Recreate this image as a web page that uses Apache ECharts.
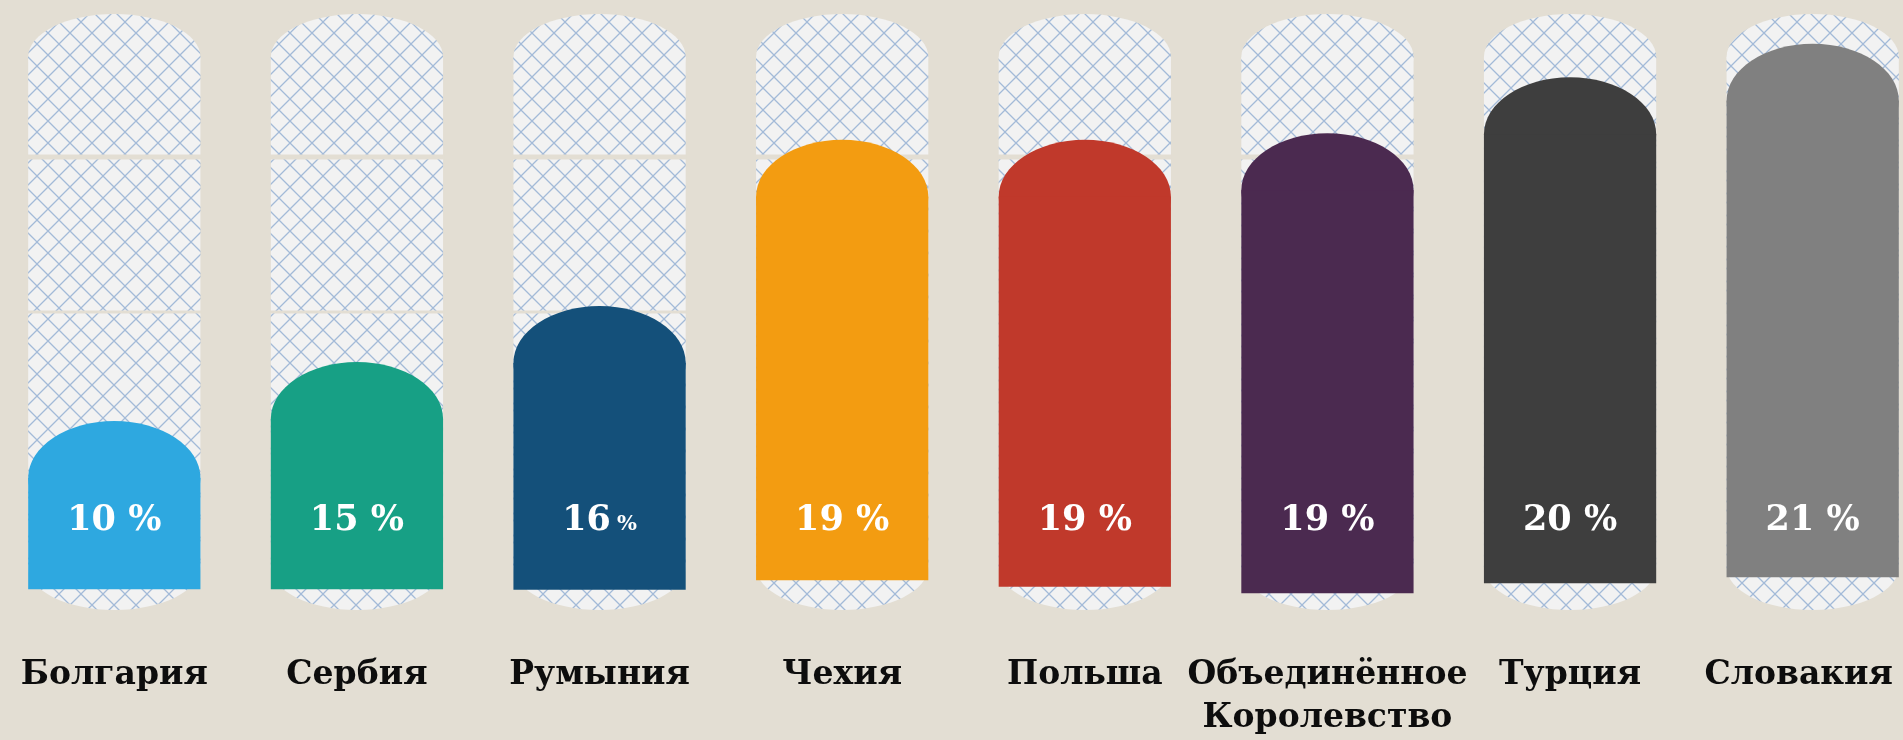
<!DOCTYPE html>
<html>
<head>
<meta charset="utf-8">
<script src="https://cdn.jsdelivr.net/npm/echarts@6/dist/echarts.min.js"></script>
<style>
  html, body { margin: 0; padding: 0; background: #e3ded3; overflow: hidden; }
  /* the pills run slightly past both edges of the window */
  #shareChart { position: absolute; left: -7px; top: 0; width: 1941px; height: 740px; }
</style>
</head>
<body>
<div id="shareChart"></div>
<script>
const countries = ['Болгария', 'Сербия', 'Румыния', 'Чехия', 'Польша', 'Объединённое Королевство', 'Турция', 'Словакия'];
const shares = [10, 15, 16, 19, 19, 19, 20, 21];
// fill level of each pill (0 = bottom of pill, 100 = top)
const fillTop = [31.7, 41.6, 51.0, 78.9, 78.9, 80.0, 89.4, 95.0];
const fillBase = [3.5, 3.5, 3.4, 5.0, 3.9, 2.8, 4.5, 5.5];
const gapLevels = [50, 76];
const barColors = ['#2ea8e0', '#17a085', '#14507a', '#f39c11', '#c0392b', '#4b2a50', '#3e3e3e', '#808080'];

const shareChart = echarts.init(document.getElementById('shareChart'));

// crosshatch pattern for the empty pills
function makeHatch() {
    const s = 22;
    const c = document.createElement('canvas');
    c.width = s;
    c.height = s;
    const ctx = c.getContext('2d');
    ctx.fillStyle = '#f2f2f2';
    ctx.fillRect(0, 0, s, s);
    ctx.strokeStyle = '#a3bad8';
    ctx.lineWidth = 1.3;
    ctx.beginPath();
    ctx.moveTo(-1, -1); ctx.lineTo(s + 1, s + 1);
    ctx.moveTo(s + 1, -1); ctx.lineTo(-1, s + 1);
    ctx.stroke();
    return c;
}
const hatch = { image: makeHatch(), repeat: 'repeat' };
const beige = '#e3ded3';

function renderPill(params, api) {
    const i = api.value(0);
    const top = api.coord([i, api.value(2)]);
    const bot = api.coord([i, api.value(1)]);
    const w = api.size([1, 0])[0] * 0.71;
    const capH = 43;
    const children = [
        { type: 'rect', shape: { x: top[0] - w / 2, y: top[1] + capH, width: w, height: bot[1] - top[1] - 2 * capH }, style: { fill: hatch } },
        { type: 'ellipse', shape: { cx: top[0], cy: top[1] + capH, rx: w / 2, ry: capH }, style: { fill: hatch } },
        { type: 'ellipse', shape: { cx: top[0], cy: bot[1] - capH, rx: w / 2, ry: capH }, style: { fill: hatch } }
    ];
    gapLevels.forEach((g, k) => {
        const gy = api.coord([i, g])[1];
        const h = k === 0 ? 3 : 5;
        children.push({ type: 'rect', shape: { x: top[0] - w / 2 - 1, y: gy - h / 2, width: w + 2, height: h }, style: { fill: beige } });
    });
    return { type: 'group', children: children };
}

function renderFill(params, api) {
    const i = api.value(0);
    const top = api.coord([i, api.value(2)]);
    const bot = api.coord([i, api.value(1)]);
    const w = api.size([1, 0])[0] * 0.71;
    const capH = 57;
    const color = barColors[params.dataIndex];
    const labelY = api.coord([i, 15])[1];
    const val = api.value(3);
    const small = countries[params.dataIndex] === 'Румыния';
    return {
        type: 'group',
        children: [
            { type: 'ellipse', shape: { cx: top[0], cy: top[1] + capH, rx: w / 2, ry: capH }, style: { fill: color } },
            { type: 'rect', shape: { x: top[0] - w / 2, y: top[1] + capH, width: w, height: bot[1] - top[1] - capH }, style: { fill: color } },
            {
                type: 'text',
                style: {
                    x: top[0],
                    y: labelY,
                    text: small ? '{a|' + val + '}{b|%}' : val + ' %',
                    align: 'center',
                    verticalAlign: 'middle',
                    fill: '#ffffff',
                    fontFamily: 'DejaVu Serif',
                    fontWeight: 'bold',
                    fontSize: 35,
                    rich: {
                        a: { fontFamily: 'DejaVu Serif', fontWeight: 'bold', fontSize: 35, fill: '#ffffff' },
                        b: { fontFamily: 'DejaVu Serif', fontWeight: 'bold', fontSize: 21, fill: '#ffffff', padding: [8, 0, 0, 6] }
                    }
                }
            }
        ]
    };
}

const labelFont = { fontFamily: 'DejaVu Serif', fontWeight: 'bold', fontSize: 33, lineHeight: 43, color: '#0d0d0d' };

const option = {
    backgroundColor: beige,
    animation: false,
    grid: { left: 0, right: 0, top: 14, bottom: 130 },
    xAxis: {
        type: 'category',
        data: countries,
        axisLine: { show: false },
        axisTick: { show: false },
        axisLabel: Object.assign({
            interval: 0,
            margin: 44,
            // last name is pulled in a little so it stays inside the window
            formatter: (val, idx) => idx === countries.length - 1 ? '{edge|' + val + '}' : val.replace(' ', '\n'),
            rich: { edge: Object.assign({ padding: [0, 28, 0, 0] }, labelFont) }
        }, labelFont)
    },
    yAxis: { type: 'value', min: 0, max: 100, show: false, splitLine: { show: false } },
    series: [
        {
            type: 'custom',
            renderItem: renderPill,
            silent: true,
            z: 1,
            data: countries.map((c, i) => [i, 0, 100])
        },
        {
            type: 'custom',
            renderItem: renderFill,
            z: 2,
            data: countries.map((c, i) => [i, fillBase[i], fillTop[i], shares[i]])
        }
    ]
};
shareChart.setOption(option);
</script>
</body>
</html>
